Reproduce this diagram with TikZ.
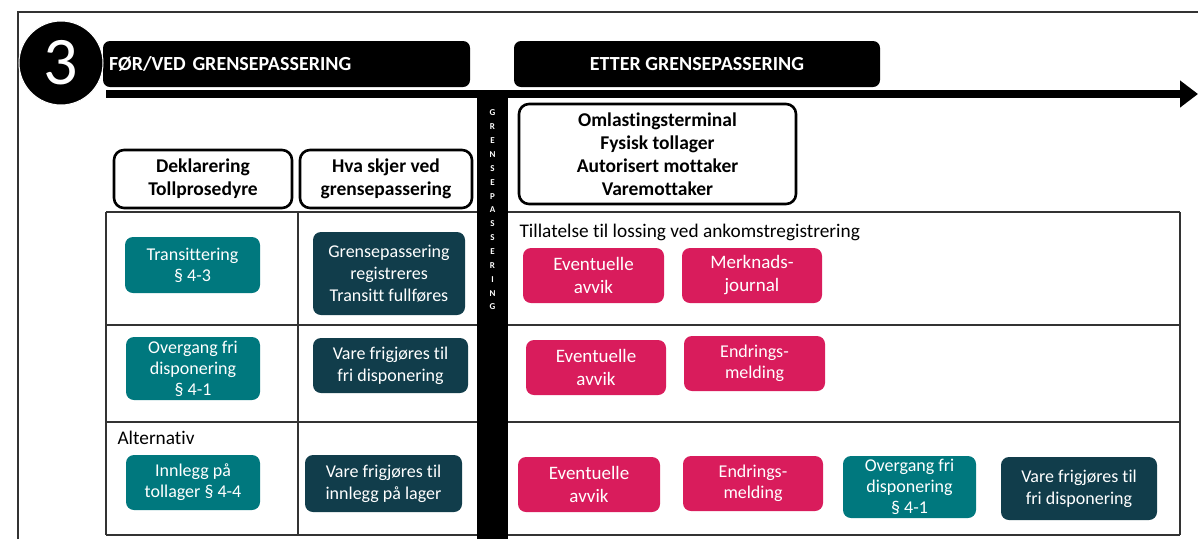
\documentclass[tikz,border=0pt]{standalone}
\usepackage{fontspec}
\setmainfont{Carlito}[Ligatures=NoCommon]
\usepackage{xcolor}
\usepackage{tikz}
\usetikzlibrary{arrows.meta}
\usetikzlibrary{positioning}

\definecolor{tollteal}{HTML}{00787E}
\definecolor{tolldark}{HTML}{113D4B}
\definecolor{tollpink}{HTML}{D91C5C}
\definecolor{tollgrid}{HTML}{333333}

\begin{document}
\begin{tikzpicture}[x=1pt,y=-1pt,
		boks/.style={rounded corners=8pt,inner sep=1pt,align=center,text=white,
			font=\fontsize{18}{21}\selectfont},
		tealboks/.style={boks,fill=tollteal},
		darkboks/.style={boks,fill=tolldark,font=\fontsize{18}{22}\selectfont},
		rosaboks/.style={boks,fill=tollpink,font=\fontsize{19}{23}\selectfont},
		kolhode/.style={draw=black,line width=2.6pt,rounded corners=10pt,fill=white,
			align=center,font=\fontsize{19.5}{23}\selectfont\bfseries},
		svartboks/.style={fill=black,rounded corners=7pt,text=white,
			font=\fontsize{20}{22}\selectfont\bfseries},
		gitter/.style={draw=tollgrid,line width=1.6pt}]
	\useasboundingbox (0,0) rectangle (1198,539);
	% ramme
	\draw[tollgrid,line width=1.6pt] (18,539) -- (18,12) -- (1198,12);
	% tabell
	\foreach \y in {212,325,422,535}
		\draw[gitter] (106,\y) -- (1180,\y);
	\foreach \x in {106,298,1180}
		\draw[gitter] (\x,212) -- (\x,535);
	% tidslinje
	\coordinate (pilstart) at (106,94);
	\coordinate (pilslutt) at (1198,94);
	\draw[line width=8pt,-{Triangle[length=18pt,width=26pt]}] (pilstart) -- (pilslutt);
	\node[svartboks,minimum width=367pt,minimum height=46pt,text width=355pt,align=left] (forved) at (286.5,64) {FØR/VED GRENSEPASSERING};
	\node[svartboks,minimum width=366pt,minimum height=46pt] (etter) at (697,64) {ETTER GRENSEPASSERING};
	\node[circle,fill=black,draw=white,line width=1pt,minimum size=84pt,inner sep=0pt,text=white,
		font=\fontsize{68}{68}\selectfont] (nummer) at (61,63) {3};
	% grensen
	\fill[black] (477,97) rectangle (508,539);
	\node[align=center,text=white,font=\fontsize{9}{13.86}\selectfont\bfseries] (grense) at (492.5,210)
		{G\\R\\E\\N\\S\\E\\P\\A\\S\\S\\E\\R\\I\\N\\G};
	% kolonnehoder
	\node[kolhode,minimum width=178pt,minimum height=58pt] (deklarering) at (203,179) {Deklarering\\Tollprosedyre};
	\node[kolhode,minimum width=172pt,minimum height=58pt] (hvaskjer) at (386,179) {Hva skjer ved\\grensepassering};
	\node[kolhode,minimum width=277pt,minimum height=100pt] (terminal) at (657.5,154)
		{Omlastingsterminal\\Fysisk tollager\\Autorisert mottaker\\Varemottaker};
	% rad 1
	\node[anchor=west,font=\fontsize{19.3}{22}\selectfont] (tillatelse) at (516,232) {Tillatelse til lossing ved ankomstregistrering};
	\node[tealboks,minimum width=135pt,minimum height=56pt] (transitt) at (192.5,265) {Transittering\\§ 4-3};
	\node[darkboks,minimum width=152pt,minimum height=83pt] (registrert) at (389,273.5) {Grensepassering\\registreres\\Transitt fullføres};
	\node[rosaboks,minimum width=141pt,minimum height=55pt] (avvikA) at (593.5,275.5) {Eventuelle\\avvik};
	\node[rosaboks,minimum width=140pt,minimum height=55pt] (merknad) at (752,275.5) {Merknads-\\journal};
	% rad 2
	\node[tealboks,minimum width=134pt,minimum height=63pt] (overgangA) at (193,368.5) {Overgang fri\\disponering\\§ 4-1};
	\node[darkboks,minimum width=155pt,minimum height=55pt] (frigjorA) at (390.5,365.5) {Vare frigjøres til\\fri disponering};
	\node[rosaboks,minimum width=140pt,minimum height=55pt] (avvikB) at (596,367.5) {Eventuelle\\avvik};
	\node[boks,fill=tollpink,minimum width=141pt,minimum height=55pt] (endringA) at (754.5,363.5) {Endrings-\\melding};
	% rad 3
	\node[anchor=west,font=\fontsize{19.3}{22}\selectfont] (alternativ) at (114,438) {Alternativ};
	\node[tealboks,minimum width=134pt,minimum height=55pt] (innlegg) at (193,482.5) {Innlegg på\\tollager § 4-4};
	\node[darkboks,minimum width=157pt,minimum height=57pt] (frigjorB) at (383.5,483.5) {Vare frigjøres til\\innlegg på lager};
	\node[rosaboks,minimum width=142pt,minimum height=55pt] (avvikC) at (589,484.5) {Eventuelle\\avvik};
	\node[boks,fill=tollpink,minimum width=140pt,minimum height=55pt] (endringB) at (753,483.5) {Endrings-\\melding};
	\node[tealboks,minimum width=133pt,minimum height=62pt] (overgangB) at (909.5,487) {Overgang fri\\disponering\\§ 4-1};
	\node[darkboks,minimum width=156pt,minimum height=63pt] (frigjorC) at (1079,488.5) {Vare frigjøres til\\fri disponering};
\end{tikzpicture}
\end{document}
